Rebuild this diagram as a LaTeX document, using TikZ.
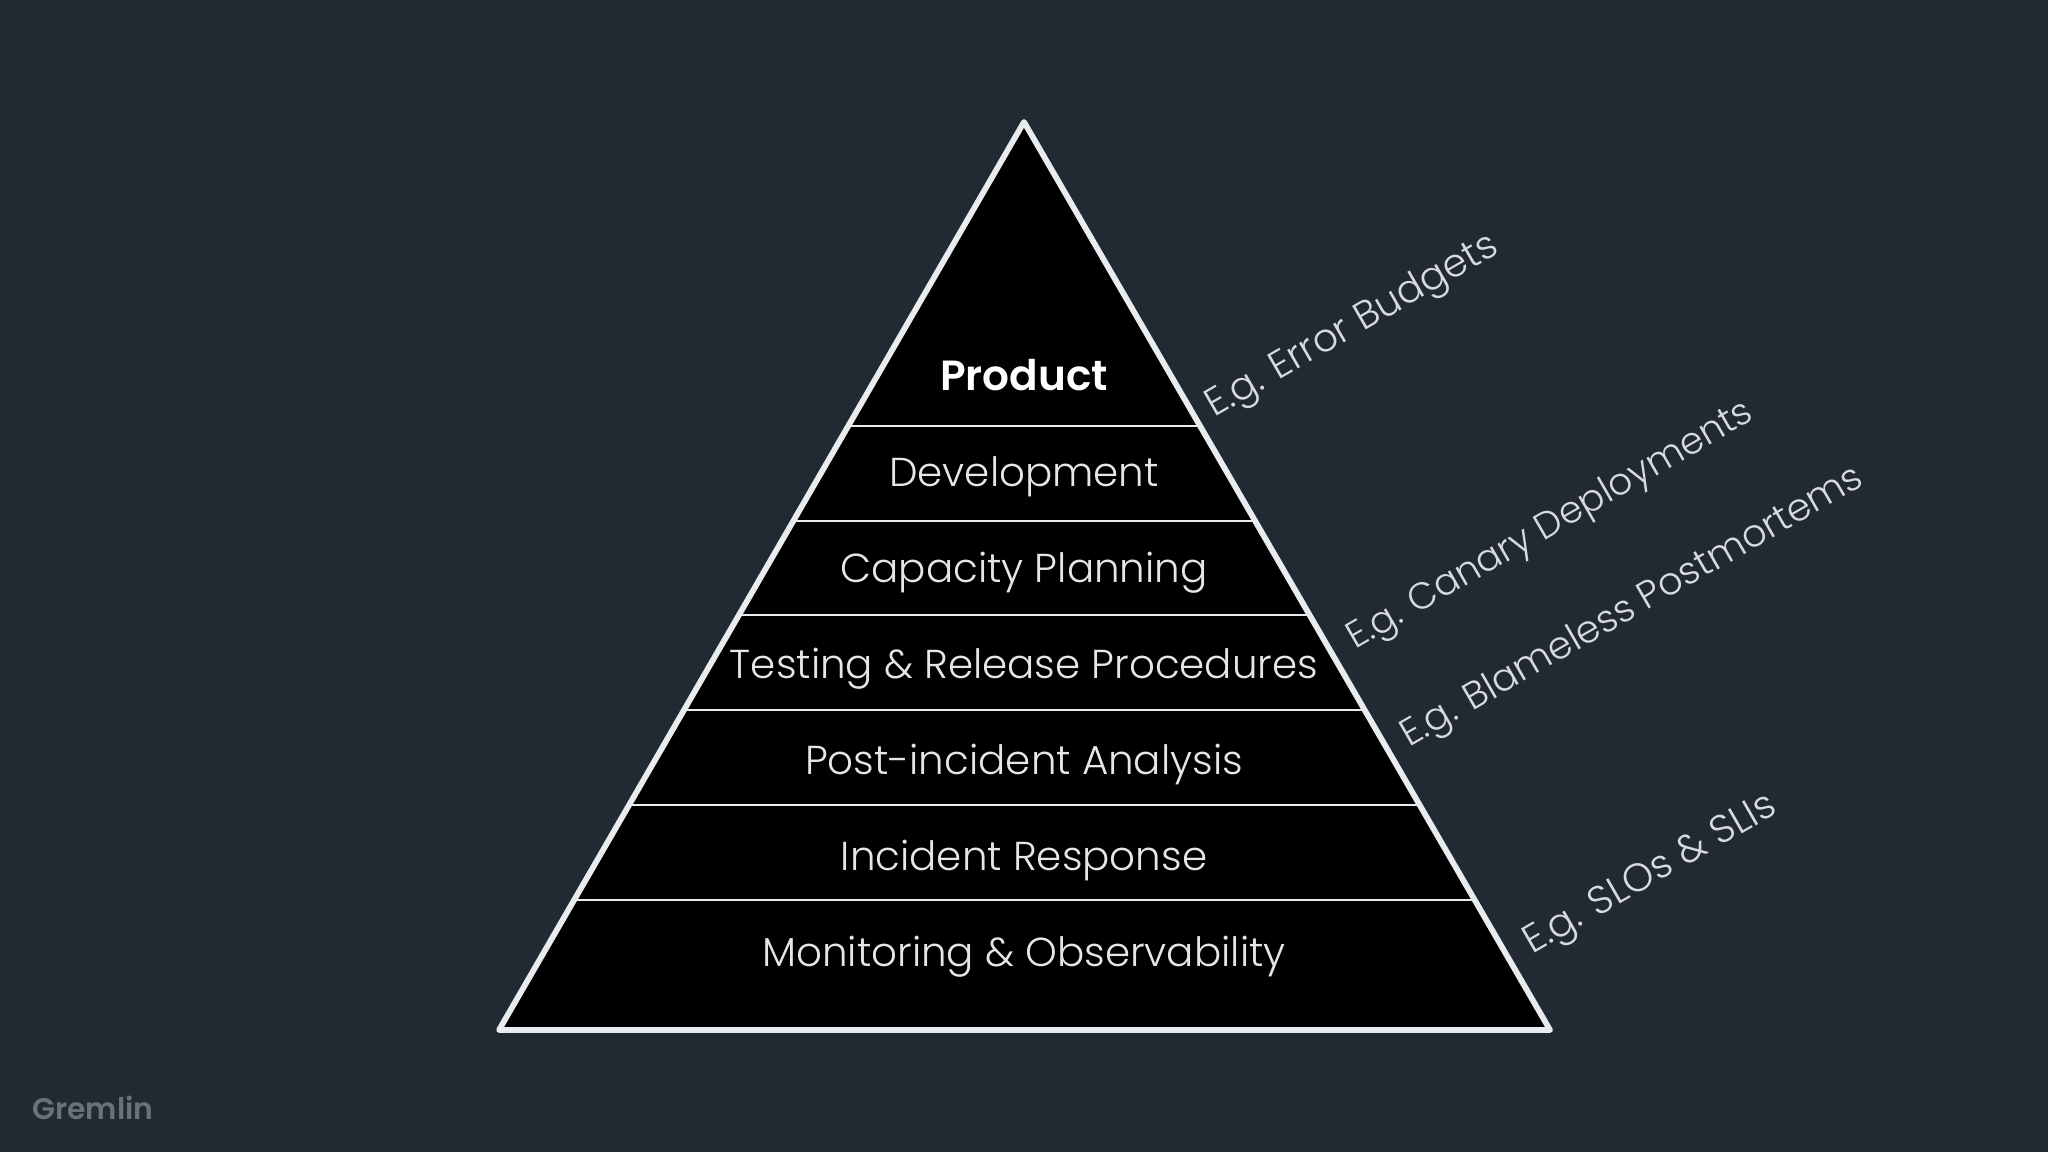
\documentclass[tikz,border=0pt]{standalone}
\usepackage{fontspec}
\setmainfont{Poppins}[UprightFont=* Light,BoldFont=* SemiBold]
\definecolor{bgc}{HTML}{212932}
\definecolor{txtc}{HTML}{E6E6E6}
\definecolor{notec}{HTML}{D8DADC}
\definecolor{edgec}{HTML}{E9ECEE}
\definecolor{logoc}{HTML}{6A717A}
\tikzset{
 px/.style={x=0.02cm,y=-0.02cm},
 layer/.style={text=txtc,font=\fontsize{23}{26}\selectfont,anchor=base,inner sep=0pt},
 note/.style={text=notec,font=\fontsize{#1}{24}\selectfont,anchor=base west,inner sep=0pt,rotate=30},
 rule/.style={draw=edgec,line width=0.04cm},
}
\begin{document}
\begin{tikzpicture}[px]
\useasboundingbox (0,0) rectangle (2048,1152);
\fill[bgc] (0,0) rectangle (2048,1152);
\coordinate (apex) at (1024,122);
\coordinate (baseL) at (499,1030);
\coordinate (baseR) at (1550,1030);
\fill[black] (apex) -- (baseR) -- (baseL) -- cycle;
\foreach \n/\y/\xl/\xr in {a/426/851/1197,b/521/796/1252,c/615/741/1307,d/710/686/1362,e/805/631/1417,f/900/576/1472}{
 \coordinate (r\n L) at (\xl,\y);
 \coordinate (r\n R) at (\xr,\y);
 \draw[rule] (r\n L) -- (r\n R);
}
\draw[edgec,line width=0.115cm,line join=round] (apex) -- (baseR) -- (baseL) -- cycle;
\node[layer,text=white,font=\fontsize{24}{26}\selectfont\bfseries] (n1) at (1024,390) {Product};
\node[layer] (n2) at (1024,486) {Development};
\node[layer] (n3) at (1024,582) {Capacity Planning};
\node[layer] (n4) at (1024,678) {Testing \& Release Procedures};
\node[layer] (n5) at (1024,774) {Post-incident Analysis};
\node[layer] (n6) at (1024,870) {Incident Response};
\node[layer] (n7) at (1024,966) {Monitoring \& Observability};
\node[note=22.2] (e1) at (1214,418) {E.g. Error Budgets};
\node[note=21.2] (e2) at (1355,650) {E.g. Canary Deployments};
\node[note=21.7] (e3) at (1409,748) {E.g. Blameless Postmortems};
\node[note=22.5] (e4) at (1532,955) {E.g. SLOs \& SLIs};
\node[anchor=base,inner sep=0pt,text=logoc,font=\fontsize{17}{20}\selectfont\bfseries] (logo) at (93,1119) {Gremlin};
\end{tikzpicture}
\end{document}
